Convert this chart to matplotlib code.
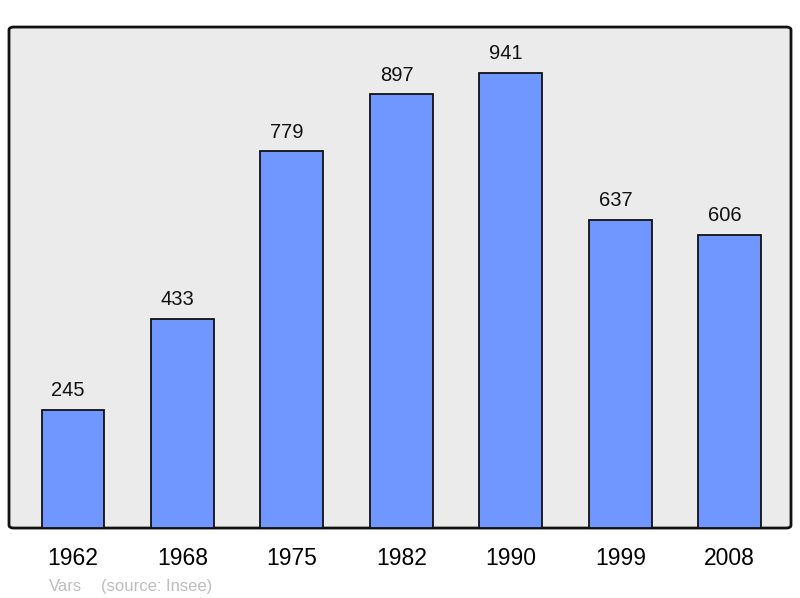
import matplotlib.pyplot as plt
from matplotlib.patches import FancyBboxPatch

years = ["1962", "1968", "1975", "1982", "1990", "1999", "2008"]
population = [245, 433, 779, 897, 941, 637, 606]
commune = "Vars"
source = "(source: Insee)"

plt.rcParams['font.family'] = ['Liberation Sans', 'DejaVu Sans']

fig = plt.figure(figsize=(8, 5.98), dpi=100)
ax = fig.add_axes([0.01125, 0.117, 0.9775, 0.8378])
ax.set_facecolor('none')

frame = FancyBboxPatch((0, 0), 1, 1, boxstyle="round,pad=0,rounding_size=0.006",
                       transform=ax.transAxes, facecolor='#ebebeb', edgecolor='#111111',
                       linewidth=2, clip_on=False, zorder=0)
ax.add_patch(frame)

x = range(len(years))
bars = ax.bar(x, population, width=0.575, color='#7096ff', edgecolor='#111111',
              linewidth=1.3, zorder=2)
for xi, val in zip(x, population):
    ax.annotate(str(val), (xi, val), xytext=(-3.5, 7), textcoords='offset points',
                ha='center', va='bottom', fontsize=14.5, color='#111111')

ax.set_xlim(-0.585, 6.56)
ax.set_ylim(0, 1036)
ax.set_xticks(list(x))
ax.set_xticklabels(years, fontsize=16.5)
ax.tick_params(axis='x', length=0, pad=14)
ax.set_yticks([])
for s in ax.spines.values():
    s.set_visible(False)

fig.text(49 / 800, 1 - 591 / 598, commune, fontsize=12, color='#bdbdbd', va='baseline')
fig.text(101 / 800, 1 - 591 / 598, source, fontsize=12, color='#bdbdbd', va='baseline')

fig.savefig('out.png', dpi=100)
